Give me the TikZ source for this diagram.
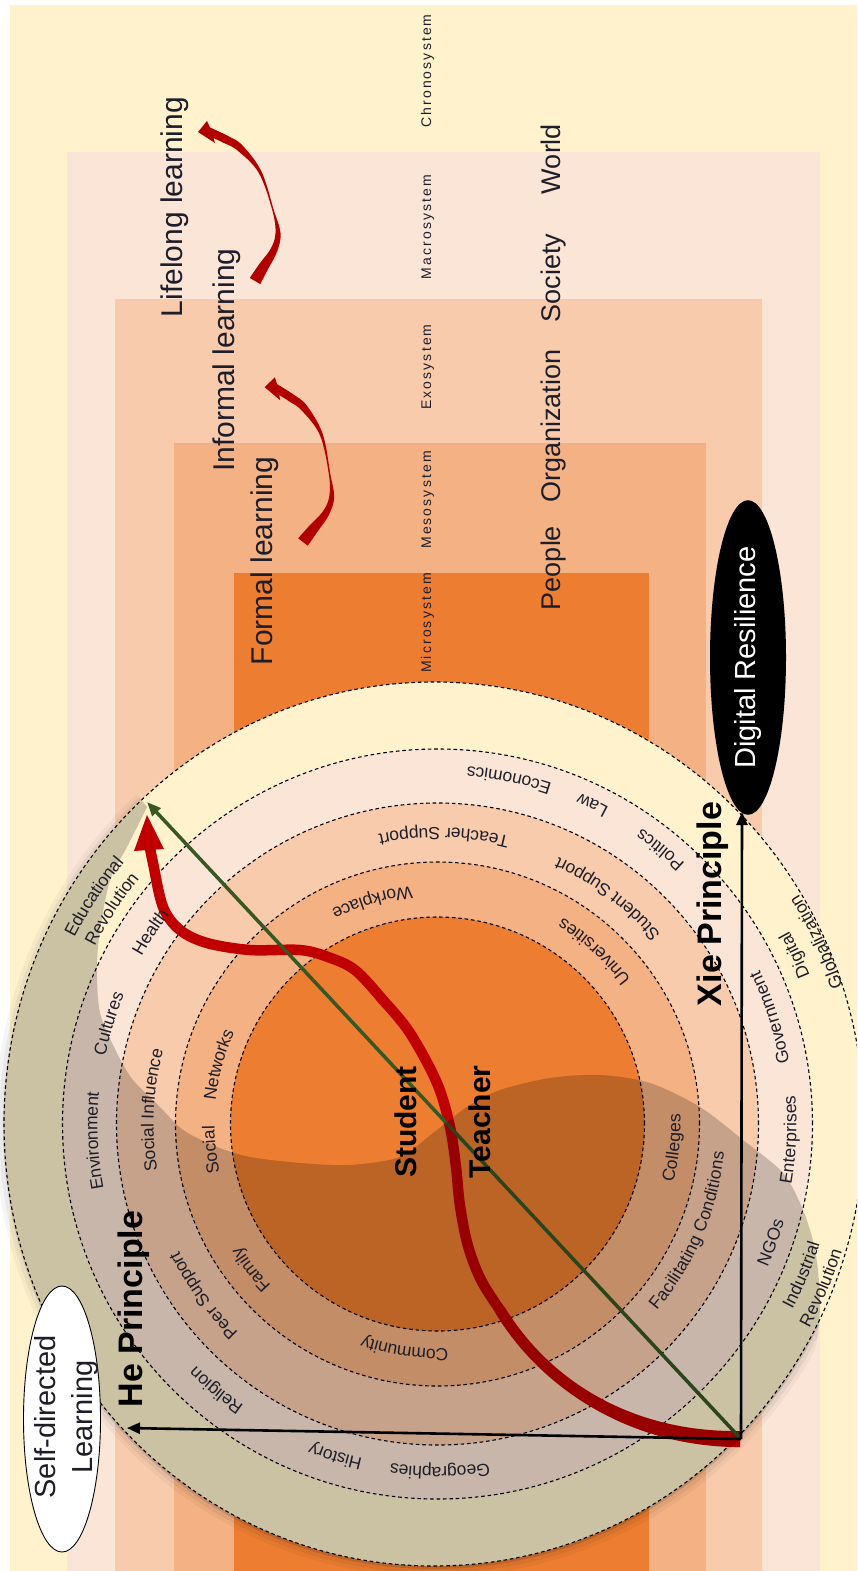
\documentclass[tikz,border=0pt]{standalone}
\usepackage{fontspec}
\setmainfont{Liberation Sans}
\newfontfamily\spacedsans[LetterSpace=15]{Liberation Sans}
\usetikzlibrary{arrows.meta,shapes.geometric,decorations.text}

\definecolor{cream}{HTML}{FFF2CC}
\definecolor{blush}{HTML}{FBE5D6}
\definecolor{peach}{HTML}{F8CBAD}
\definecolor{apricot}{HTML}{F4B183}
\definecolor{tangerine}{HTML}{ED7D31}
\definecolor{arrowred}{HTML}{C00000}
\definecolor{deepred}{HTML}{B20000}
\definecolor{leaf}{HTML}{385723}
\definecolor{ink}{HTML}{1E1E2A}

\newcommand\ringfont{\fontsize{17.5}{20}\selectfont}

% text set along a circle round (C): radius, middle angle,
% turn (1 = counter-clockwise, -1 = clockwise), text
\newcommand\ringlabel[4]{%
  \pgfmathsetmacro\arcfrom{#2-50*#3}%
  \pgfmathsetmacro\arcto{#2+50*#3}%
  \path[decorate, decoration={text along path, text align=center,
      raise=-6pt, text color=ink, text={|\ringfont|#4}}]
    ([shift={(\arcfrom:#1)}]C) arc[start angle=\arcfrom, end angle=\arcto, radius=#1];
}

% tapered curved arrow, drawn from its tail at the origin
\newcommand\curlyarrow{%
  \fill[deepred] plot[smooth, tension=0.6] coordinates {(5.2,-3.1) (13.3,12.4) (22.2,29.6)
      (25.5,48) (18.7,71.2) (6.4,109.6) (-12.5,135.5) (-26,144.5) (-45,153.5)}
    -- (-48,160) -- (-57,149) -- (-40,138)
    -- plot[smooth, tension=0.6] coordinates {(-41.5,143) (-30,137.5) (-17.5,130.5)
      (3.6,108.4) (17.3,70.8) (20.5,48) (15.8,32.4) (4.8,17.6) (-5.2,3.1)} -- cycle;}

\begin{document}
\begin{tikzpicture}[x=1pt, y=1pt,
  ringline/.style={draw=black, line width=1.1pt, dash pattern=on 3.6pt off 2.8pt},
  bigtxt/.style={rotate=90, inner sep=0pt, text=ink, font=\fontsize{30}{36}\selectfont,
    text height=22.5pt, text depth=7.5pt},
  layertxt/.style={rotate=90, inner sep=0pt, text=ink, font=\fontsize{27}{32}\selectfont,
    text height=20.25pt, text depth=6.75pt},
  systxt/.style={rotate=90, inner sep=0pt, text=ink, font=\spacedsans\fontsize{14}{17}\selectfont,
    text height=10.5pt, text depth=3.5pt},
  roletxt/.style={rotate=90, inner sep=0pt, text=black, font=\bfseries\fontsize{30}{36}\selectfont,
    text height=22.5pt, text depth=7.5pt},
  principletxt/.style={rotate=90, inner sep=0pt, text=black, font=\bfseries\fontsize{34}{40}\selectfont,
    text height=25.5pt, text depth=8.5pt},
  axisarrow/.style={draw=black, line width=2.6pt, -{Triangle[length=13pt,width=11pt]}},
]
\useasboundingbox (0,0) rectangle (857,-1571);
\clip (0,0) rectangle (857,-1571);

% nested system bands
\fill[cream] (10,-5) rectangle (857,-1571);
\fill[blush] (67,-152) rectangle (820,-1571);
\fill[peach] (115,-299) rectangle (762,-1571);
\fill[apricot] (174,-443) rectangle (706,-1571);
\fill[tangerine] (234,-573) rectangle (649,-1571);

% concentric rings
\coordinate (C) at (437.5,-1124);
\fill[cream] (434,-1124) ellipse[x radius=430, y radius=442];
\fill[blush] (C) circle[radius=375];
\fill[peach] (C) circle[radius=321];
\fill[apricot] (C) circle[radius=262];
\fill[tangerine] (C) circle[radius=207];
\draw[ringline] (434,-1124) ellipse[x radius=430, y radius=442];
\draw[ringline] (C) circle[radius=375];
\draw[ringline] (C) circle[radius=321];
\draw[ringline] (C) circle[radius=262];
\draw[ringline] (C) circle[radius=207];

% axes origin and tips
\coordinate (O) at (741,-1439);
\coordinate (xietip) at (742,-812);
\coordinate (hetip) at (127,-1428);
\coordinate (greentip) at (147,-802);
\coordinate (redtip) at (147,-815);

% red learning path
\fill[arrowred] (740,-1431) .. controls (640,-1432.5) and (554,-1387.5) .. (504.7,-1307.1)
  -- (495.3,-1312.9) .. controls (546,-1396.5) and (640,-1447.5) .. (740,-1447) -- cycle;
\draw[arrowred, line width=10.5pt, line join=round] plot[smooth, tension=0.55] coordinates {
  (500,-1310) (481,-1280) (468,-1246) (460,-1206) (456,-1167) (450,-1127) (437,-1083)
  (410,-1033) (383,-1000) (355,-970) (328,-957) (300,-950) (250,-950) (207,-943)
  (180,-930) (163,-907) (153,-863) (150,-848)};
\fill[arrowred] (redtip) -- (134,-851) -- (164,-849) -- cycle;

% green diagonal
\draw[leaf, line width=3.5pt, -{Triangle[length=14pt,width=11pt]}] (O) -- (greentip);

% shadow half
\begin{scope}
\clip (60,-700) -- plot[smooth, tension=0.5] coordinates {(147,-807) (127,-847) (110,-880)
  (100,-930) (97,-967) (100,-1013) (117,-1053) (133,-1080) (160,-1107) (183,-1130)
  (217,-1147) (250,-1157) (300,-1163) (350,-1165) (400,-1157) (433,-1133) (467,-1107)
  (500,-1090) (550,-1078) (600,-1075) (650,-1083) (700,-1107) (743,-1140) (783,-1173)
  (803,-1210) (815,-1250) (820,-1300) (815,-1350) (790,-1410)}
  -- (760,-1600) -- (-50,-1600) -- (-50,-700) -- cycle;
\fill[black, opacity=0.04] (434,-1126) ellipse[x radius=439, y radius=451];
\fill[black, opacity=0.05] (434,-1126) ellipse[x radius=435, y radius=447];
\fill[black, opacity=0.12] (434,-1126) ellipse[x radius=431, y radius=443];
\end{scope}

% axes
\draw[axisarrow] (O) -- (xietip);
\draw[axisarrow] (O) -- (hetip);

% small curved arrows between learning modes
\begin{scope}[shift={(255,-281)}] \curlyarrow \end{scope}
\begin{scope}[shift={(303,-542)}, rotate=-7] \curlyarrow \end{scope}

% learning modes
\node[bigtxt] (lifelong) at (175,-207) {Lifelong learning};
\node[bigtxt] (informal) at (227,-360) {Informal learning};
\node[bigtxt] (formal) at (265,-561) {Formal learning};

% system levels
\node[systxt] (chrono) at (427.5,-71) {Chronosystem};
\node[systxt] (macro) at (427.5,-227) {Macrosystem};
\node[systxt] (exo) at (427.5,-367) {Exosystem};
\node[systxt] (meso) at (427.5,-500) {Mesosystem};
\node[systxt] (micro) at (427.5,-623) {Microsystem};

\node[layertxt] (world) at (553.5,-159) {World};
\node[layertxt] (society) at (553.5,-278) {Society};
\node[layertxt] (organization) at (553.5,-426) {Organization};
\node[layertxt] (people) at (553.5,-568) {People};

% ring labels
\ringlabel{233}{106.3}{1}{Workplace}
\ringlabel{235}{47.7}{1}{Universities}
\ringlabel{237}{-5.8}{1}{Colleges}
\ringlabel{231}{-98.3}{-1}{Community}
\ringlabel{238}{-142}{-1}{Family}
\ringlabel{229}{186.5}{-1}{Social}
\ringlabel{229}{164.8}{-1}{Networks}
\ringlabel{290}{88.7}{1}{Teacher Support}
\ringlabel{287}{53}{1}{Student Support}
\ringlabel{282}{-23}{1}{Facilitating Conditions}
\ringlabel{294}{-143.8}{-1}{Peer Support}
\ringlabel{290}{177.2}{-1}{Social Influence}
\ringlabel{353}{78.3}{1}{Economics}
\ringlabel{354}{64.1}{1}{Law}
\ringlabel{353}{50.9}{1}{Politics}
\ringlabel{346}{146.3}{-1}{Health}
\ringlabel{345}{163}{-1}{Cultures}
\ringlabel{346}{182.8}{-1}{Environment}
\ringlabel{348}{-129.7}{-1}{Religion}
\ringlabel{349}{-107.1}{-1}{History}
\ringlabel{349}{-89.6}{-1}{Geographies}
\ringlabel{354}{-19.6}{1}{NGOs}
\ringlabel{353}{-2.6}{1}{Enterprises}
\ringlabel{351}{17.7}{1}{Government}
\ringlabel{414}{146.5}{-1}{Educational}
\ringlabel{392}{146.6}{-1}{Revolution}
\ringlabel{394.5}{-22.5}{1}{Industrial}
\ringlabel{418}{-23.1}{1}{Revolution}
\ringlabel{395}{25.3}{1}{Digital}
\ringlabel{422}{25.6}{1}{Globalization}

% centre roles
\node[roletxt] (student) at (409,-1122) {Student};
\node[roletxt] (teacher) at (482.5,-1122) {Teacher};

% principles
\node[principletxt] (xie) at (712.8,-904) {Xie Principle};
\node[principletxt] (he) at (133.5,-1309) {He Principle};

% ovals
\node[ellipse, fill=black, rotate=90, minimum width=265pt, minimum height=76pt, inner sep=0pt,
  text=white, font=\fontsize{29}{34}\selectfont, text height=21.75pt, text depth=7.25pt]
  (resilience) at (748,-657.5) {Digital Resilience};
\node[ellipse, draw=black, line width=0.9pt, fill=white, rotate=90, minimum width=266pt,
  minimum height=77pt, inner sep=0pt] (selfdir) at (62,-1419) {};
\node[rotate=90, align=center, inner sep=0pt, text=ink, font=\fontsize{29}{37}\selectfont]
  (selfdirtext) at (67,-1417) {Self-directed\\Learning};
\end{tikzpicture}
\end{document}
